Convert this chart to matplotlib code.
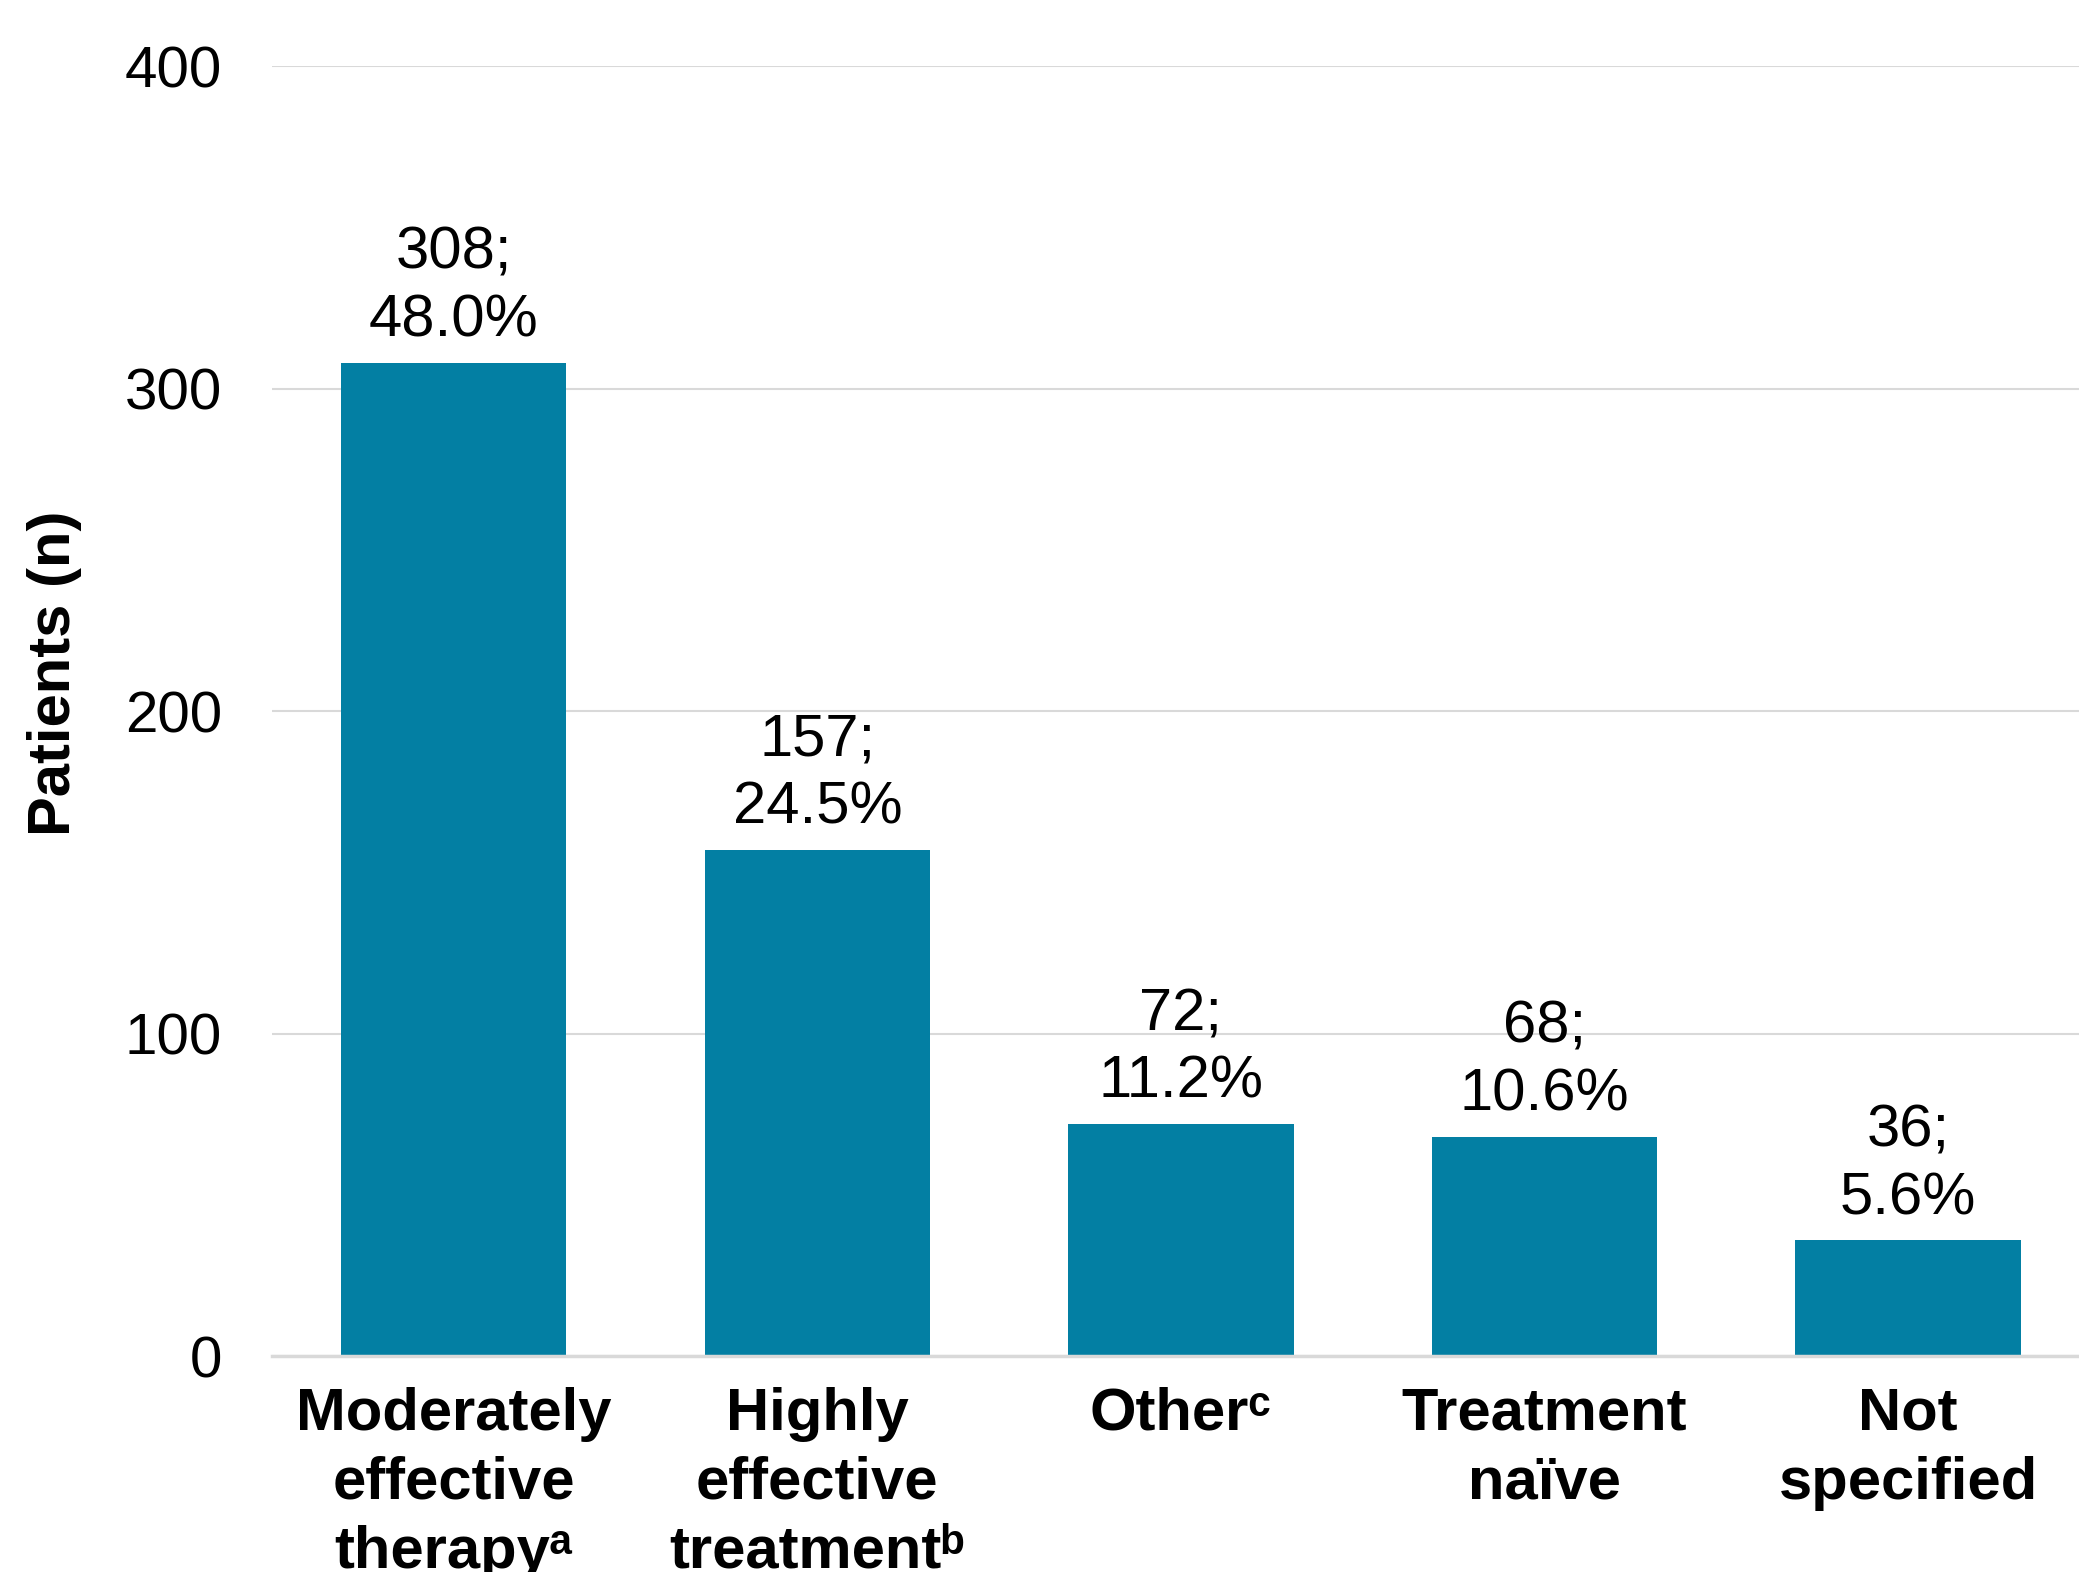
import matplotlib
matplotlib.use("Agg")
import matplotlib.pyplot as plt

categories = ["Moderately\neffective\ntherapy\u1d43", "Highly\neffective\ntreatment\u1d47",
              "Other\u1d9c", "Treatment\nna\u00efve", "Not\nspecified"]
counts = [308, 157, 72, 68, 36]
percents = ["48.0%", "24.5%", "11.2%", "10.6%", "5.6%"]
yticks = [0, 100, 200, 300, 400]

plt.rcParams['font.family'] = ['Liberation Sans', 'DejaVu Sans']

fig = plt.figure(figsize=(20.79, 15.72), dpi=100)
ax = fig.add_axes([0.1308, 0.1374, 0.8692, 0.8206])

x = list(range(len(categories)))
bars = ax.bar(x, counts, width=0.62, color='#037FA3', zorder=3)

for xi, c, p in zip(x, counts, percents):
    ax.annotate(f"{c};\n{p}", xy=(xi, c), xytext=(0, 10), textcoords='offset points',
                ha='center', va='bottom', fontsize=43, linespacing=1.3, color='black')

ax.set_ylim(0, 400)
ax.set_xlim(-0.5, 4.47)
ax.set_yticks(yticks)
ax.set_yticklabels([str(t) for t in yticks], fontsize=42)
ax.set_xticks(x)
ax.set_xticklabels(categories, fontsize=43, fontweight='bold', linespacing=1.33, va='top')
ax.tick_params(axis='y', length=0, pad=36)
ax.tick_params(axis='x', length=0, pad=22)

ax.grid(axis='y', color='#d9d9d9', linewidth=1.5, zorder=0)
for s in ['top', 'right', 'left']:
    ax.spines[s].set_visible(False)
ax.spines['bottom'].set_color('#d9d9d9')
ax.spines['bottom'].set_linewidth(2.5)
ax.spines['bottom'].set_zorder(4)

ax.set_ylabel("Patients (n)", fontsize=43, fontweight='bold', labelpad=0)
ax.yaxis.set_label_coords(-0.105, 0.529)

fig.savefig("out.png", dpi=100)
